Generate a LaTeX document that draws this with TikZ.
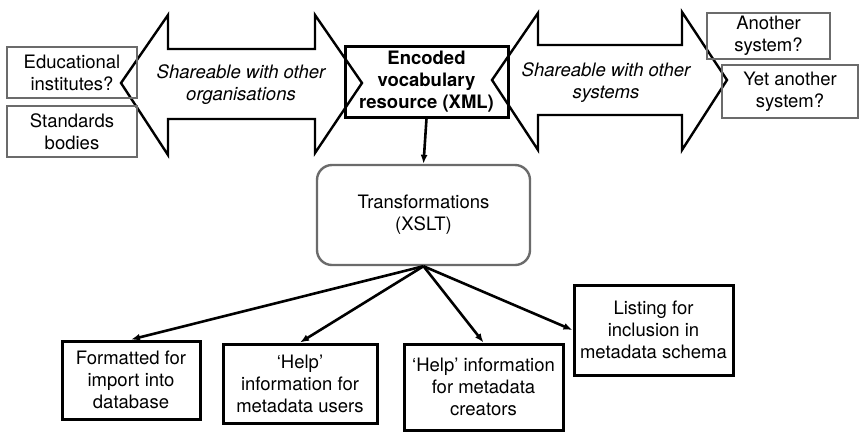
\documentclass[tikz,border=0pt]{standalone}
\usepackage{fontspec}
\setmainfont{TeX Gyre Heros}
\usetikzlibrary{arrows.meta}
\definecolor{boxgray}{gray}{0.42}
\begin{document}
\begin{tikzpicture}[x=1pt,y=-1pt,
  every node/.style={font=\fontsize{18.5}{22}\selectfont, align=center, inner sep=0pt},
  graybox/.style={draw=boxgray, line width=2.4pt, minimum width=#1},
  blackbox/.style={draw=black, line width=3pt},
  bigarrow/.style={draw=black, line width=2.4pt, line join=miter, fill=white},
  link/.style={line width=2.6pt, -{Latex[length=9pt,width=7pt]}}]
\useasboundingbox (0,0) rectangle (859,432);

% shareable-with arrows
\draw[bigarrow] (121,83) -- (168,15) -- (168,49) -- (315,49) -- (315,15) -- (362,83)
  -- (315,153) -- (315,119) -- (168,119) -- (168,155) -- cycle;
\node (orgs) at (241,85) {\itshape Shareable with other\\\itshape organisations};

\draw[bigarrow] (492,80) -- (538,13) -- (538,45) -- (682,45) -- (682,12) -- (727,80)
  -- (682,150) -- (682,115) -- (538,115) -- (538,150) -- cycle;
\node (systems) at (606,83) {\itshape Shareable with other\\\itshape systems};

% partner boxes
\node[graybox=130pt, minimum height=51pt] (edu) at (72,72.5) {Educational\\institutes?};
\node[graybox=130pt, minimum height=51pt] (std) at (72,131.5) {Standards\\bodies};
\node[graybox=123pt, minimum height=46pt] (another) at (768.5,36) {Another\\system?};
\node[graybox=136pt, minimum height=53pt] (yet) at (790,91.5) {Yet another\\system?};

% central resource
\node[blackbox, minimum width=163pt, minimum height=71pt, font=\fontsize{18.5}{22}\selectfont\bfseries]
  (enc) at (426.5,81.5) {Encoded\\vocabulary\\resource (XML)};

\node[draw=boxgray, line width=2.4pt, rounded corners=15pt, minimum width=213pt, minimum height=100pt]
  (trans) at (423.5,215) {Transformations\\(XSLT)};

% outputs
\node[blackbox, minimum width=138pt, minimum height=78pt] (fmt) at (131,380) {Formatted for\\import into\\database};
\node[blackbox, minimum width=154pt, minimum height=79pt] (hu) at (300,383.5) {`Help'\\information for\\metadata users};
\node[blackbox, minimum width=159pt, minimum height=86pt] (hc) at (483.5,387) {`Help' information\\for metadata\\creators};
\node[blackbox, minimum width=159pt, minimum height=90pt] (lst) at (653.5,330) {Listing for\\inclusion in\\metadata schema};

% connectors
\draw[link] (enc.south) -- (trans.north);
\draw[link] (trans.south) -- (fmt.north);
\draw[link] (trans.south) -- (hu.north);
\draw[link] (trans.south) -- (hc.north);
\draw[link] (trans.south) -- (lst.west);
\end{tikzpicture}
\end{document}
